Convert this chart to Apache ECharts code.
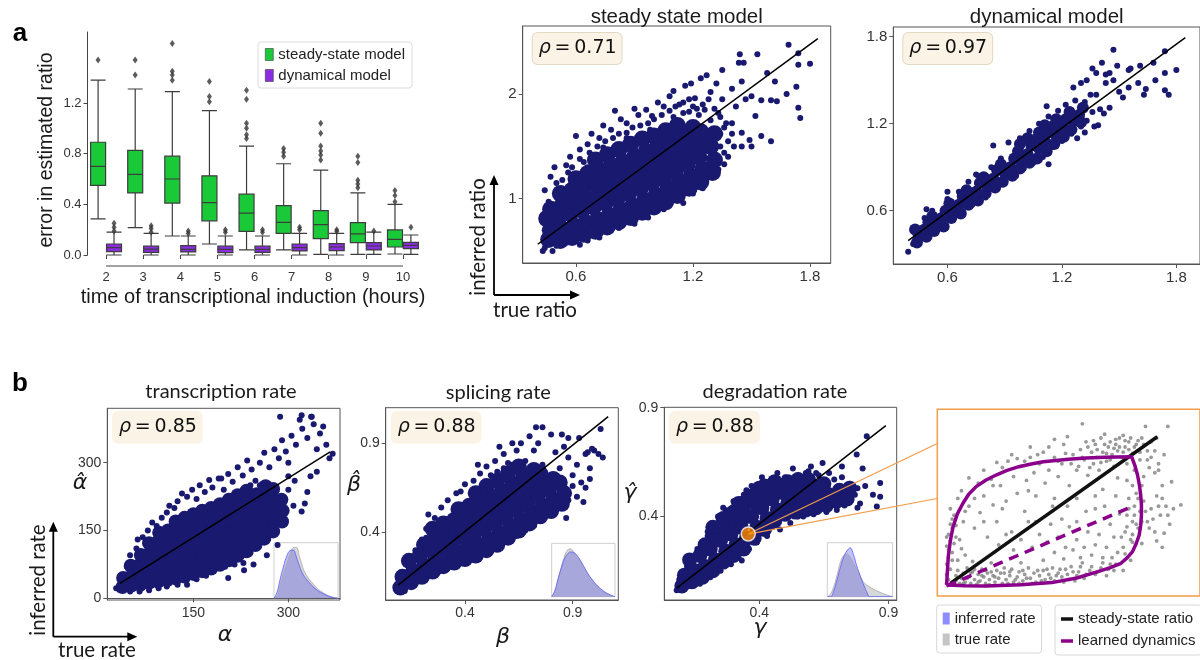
<!DOCTYPE html>
<html><head><meta charset="utf-8">
<script src="https://cdn.jsdelivr.net/npm/echarts@6/dist/echarts.min.js"></script>
<style>html,body{margin:0;padding:0;background:#fff}#c{width:1200px;height:660px}</style>
</head><body><div id="c"></div>
<script>
// ---------- panel a: error in estimated ratio per induction time ----------
const hours = ['2','3','4','5','6','7','8','9','10'];
// [lower whisker, Q1, median, Q3, upper whisker]
const steadyBoxes = [[0.285,0.55,0.70,0.89,1.38],[0.216,0.49,0.636,0.825,1.31],[0.15,0.41,0.60,0.78,1.29],[0.087,0.27,0.414,0.625,1.14],[0.04,0.187,0.33,0.48,0.86],[0.04,0.17,0.258,0.39,0.72],[0.005,0.13,0.24,0.35,0.67],[0.005,0.098,0.166,0.256,0.49],[0.008,0.063,0.124,0.198,0.40]];
const dynBoxes = [[0,0.026,0.058,0.087,0.18],[0,0.02,0.047,0.07,0.17],[0,0.024,0.045,0.074,0.15],[0,0.018,0.045,0.07,0.15],[0,0.02,0.045,0.07,0.15],[0,0.032,0.058,0.087,0.17],[0,0.034,0.063,0.09,0.17],[0.005,0.04,0.071,0.098,0.18],[0.005,0.05,0.076,0.1,0.158]];
// [hour index, value]
const steadyOutliers = [[0,1.54],[1,1.54],[1,1.42],[2,1.67],[2,1.45],[2,1.42],[2,1.38],[3,1.37],[3,1.25],[3,1.21],[4,1.30],[4,1.23],[4,1.04],[4,1.0],[4,0.95],[4,0.92],[5,0.84],[5,0.81],[5,0.78],[6,1.04],[6,0.96],[6,0.86],[6,0.82],[6,0.79],[6,0.75],[7,0.78],[7,0.73],[7,0.59],[7,0.56],[7,0.53],[8,0.51],[8,0.47],[8,0.42]];
const dynOutliers = [[0,0.25],[0,0.22],[0,0.19],[1,0.23],[1,0.21],[1,0.18],[2,0.19],[2,0.17],[3,0.2],[3,0.18],[4,0.2],[4,0.18],[5,0.22],[5,0.2],[6,0.2],[6,0.185],[7,0.19],[8,0.22]];

// ---------- panel a: inferred vs true ratio ----------
const ssDense = [[0.46,0.61],[0.47,0.7],[0.45,0.81],[0.47,0.9],[0.52,0.6],[0.53,0.71],[0.51,0.83],[0.53,0.94],[0.52,1.05],[0.58,0.63],[0.59,0.74],[0.57,0.86],[0.59,0.97],[0.58,1.08],[0.6,1.19],[0.64,0.66],[0.65,0.77],[0.63,0.89],[0.65,1.0],[0.64,1.12],[0.66,1.24],[0.7,0.69],[0.71,0.8],[0.69,0.92],[0.71,1.03],[0.7,1.15],[0.72,1.27],[0.7,1.37],[0.76,0.73],[0.77,0.84],[0.75,0.96],[0.77,1.07],[0.76,1.19],[0.78,1.31],[0.76,1.42],[0.82,0.78],[0.83,0.89],[0.81,1.0],[0.83,1.12],[0.82,1.23],[0.84,1.35],[0.82,1.47],[0.88,0.82],[0.89,0.93],[0.87,1.05],[0.89,1.16],[0.88,1.28],[0.9,1.4],[0.88,1.52],[0.94,0.87],[0.95,0.98],[0.93,1.1],[0.95,1.21],[0.94,1.33],[0.96,1.45],[0.94,1.57],[1.0,0.92],[1.01,1.03],[0.99,1.15],[1.01,1.26],[1.0,1.38],[1.02,1.5],[1.0,1.6],[1.06,0.97],[1.07,1.09],[1.05,1.2],[1.07,1.32],[1.06,1.43],[1.08,1.55],[1.06,1.65],[1.12,1.03],[1.13,1.15],[1.11,1.26],[1.13,1.38],[1.12,1.49],[1.14,1.6],[1.12,1.7],[1.18,1.1],[1.19,1.21],[1.17,1.33],[1.19,1.44],[1.18,1.56],[1.2,1.68],[1.24,1.16],[1.25,1.28],[1.23,1.4],[1.25,1.52],[1.24,1.64],[1.3,1.25],[1.31,1.37],[1.29,1.5],[1.31,1.62]];
const ssSparse = [[0.44,1.08],[0.47,1.21],[0.5,1.15],[0.49,1.3],[0.55,1.32],[0.57,1.4],[0.6,1.6],[0.62,1.47],[0.66,1.52],[0.68,1.62],[0.72,1.58],[0.74,1.7],[0.78,1.66],[0.8,1.84],[0.83,1.76],[0.86,1.72],[0.9,1.86],[0.92,1.8],[0.96,1.85],[0.99,1.79],[1.02,1.92],[1.05,1.88],[1.08,1.98],[1.1,2.03],[1.13,1.9],[1.16,2.08],[1.19,2.1],[1.21,1.96],[1.24,2.15],[1.27,2.18],[1.29,2.02],[1.32,2.1],[1.35,1.95],[1.35,2.23],[1.4,2.05],[1.435,2.3],[1.46,2.3],[1.45,2.12],[1.5,1.98],[1.52,1.79],[1.55,1.94],[1.6,1.94],[1.63,1.93],[1.68,2.0],[1.73,2.07],[1.69,2.47],[1.74,2.39],[1.74,2.28],[1.8,2.29],[1.74,1.87],[1.75,1.77],[1.5,1.5],[1.45,1.63],[1.49,1.56],[1.45,1.5],[1.41,1.5],[1.36,1.44],[1.38,1.55],[1.4,1.72],[1.34,1.5],[1.33,1.82],[1.3,1.4],[1.36,1.33],[1.25,1.1],[1.2,1.05],[1.15,0.96],[1.05,0.9],[0.97,0.82],[0.9,0.76],[0.82,0.72],[0.72,0.63],[0.66,0.6],[0.62,0.56],[0.55,0.58],[0.5,0.55],[0.44,0.53],[0.43,0.5],[0.48,0.5],[0.44,0.7],[0.43,0.78],[0.46,0.97],[1.58,2.2],[1.62,2.12],[1.53,2.38],[1.44,2.38],[1.6,1.55],[1.55,1.6],[1.26,1.85],[1.2,1.88],[1.15,1.82],[1.36,1.68],[1.42,1.88],[1.47,1.95],[0.64,1.35],[0.58,1.3],[0.53,1.18],[0.56,1.25],[0.62,1.38],[0.67,1.44],[0.71,1.5],[0.75,1.55],[0.79,1.58],[0.82,1.62],[0.86,1.63],[0.89,1.68],[0.93,1.7],[0.97,1.72],[1.0,1.76],[1.04,1.8],[1.08,1.84],[1.11,1.88],[1.15,1.92],[1.18,1.95],[1.22,1.86],[1.25,1.9],[1.28,1.95],[1.31,1.86],[1.34,1.78],[1.37,1.72],[1.4,1.62],[1.34,1.62],[1.29,1.75],[1.23,1.8],[1.18,1.83],[1.1,1.78],[0.98,1.66],[0.86,1.58],[0.74,1.49],[0.66,1.3],[1.33,1.28],[1.38,1.4],[1.27,1.2],[1.22,1.12],[1.17,1.06],[1.1,0.99],[1.02,0.94],[0.95,0.86]];
const ssFit = [[0.404,0.565],[1.84,2.53]];

const dyDense = [[0.44,0.38],[0.45,0.43],[0.43,0.47],[0.49,0.42],[0.48,0.47],[0.5,0.52],[0.53,0.46],[0.54,0.51],[0.52,0.56],[0.58,0.49],[0.57,0.55],[0.59,0.6],[0.62,0.55],[0.63,0.6],[0.61,0.65],[0.67,0.58],[0.66,0.64],[0.68,0.7],[0.71,0.64],[0.72,0.69],[0.7,0.74],[0.76,0.67],[0.75,0.73],[0.77,0.79],[0.8,0.72],[0.81,0.77],[0.79,0.83],[0.85,0.76],[0.84,0.82],[0.86,0.88],[0.89,0.8],[0.9,0.86],[0.88,0.92],[0.94,0.84],[0.93,0.9],[0.95,0.96],[0.98,0.89],[0.99,0.95],[0.97,1.01],[0.98,1.06],[1.03,0.93],[1.02,0.99],[1.04,1.05],[1.02,1.1],[1.07,0.96],[1.08,1.03],[1.06,1.09],[1.08,1.14],[1.12,1.01],[1.11,1.08],[1.13,1.14],[1.11,1.19],[1.16,1.06],[1.17,1.12],[1.15,1.18],[1.17,1.23],[1.21,1.11],[1.2,1.17],[1.22,1.23],[1.25,1.16],[1.26,1.22],[1.24,1.28],[1.3,1.21],[1.29,1.26],[1.31,1.31]];
const dySparse = [[0.394,0.317],[0.42,0.37],[0.44,0.4],[0.47,0.41],[0.49,0.61],[0.5,0.44],[0.48,0.55],[0.52,0.6],[0.55,0.47],[0.58,0.51],[0.6,0.68],[0.6,0.73],[0.63,0.54],[0.66,0.73],[0.68,0.59],[0.71,0.8],[0.73,0.64],[0.75,0.85],[0.76,0.84],[0.8,0.69],[0.84,1.05],[0.83,0.9],[0.85,0.74],[0.88,0.96],[0.9,0.79],[0.92,1.07],[0.96,0.84],[0.98,1.1],[1.0,0.89],[1.03,1.15],[1.05,0.93],[1.08,1.2],[1.1,0.97],[1.13,0.92],[1.13,1.25],[1.15,1.04],[1.18,1.29],[1.2,1.08],[1.22,1.33],[1.25,1.13],[1.27,1.36],[1.3,1.18],[1.32,1.35],[1.33,1.22],[1.35,1.4],[1.36,1.28],[1.38,1.4],[1.4,1.3],[1.42,1.27],[1.43,1.48],[1.45,1.55],[1.47,1.5],[1.5,1.42],[1.52,1.38],[1.55,1.45],[1.56,1.58],[1.6,1.48],[1.63,1.4],[1.47,1.71],[1.74,1.7],[1.8,1.57],[1.74,1.55],[1.74,1.43],[1.76,1.4],[1.64,1.44],[1.69,1.5],[1.68,1.62],[1.61,1.6],[1.55,1.57],[1.49,1.6],[1.43,1.54],[1.38,1.55],[1.45,1.31],[1.37,1.18],[1.32,1.14],[1.39,1.19],[1.36,1.58],[1.3,1.48],[1.26,1.45],[1.33,1.5],[1.12,1.32],[1.28,1.1],[1.41,1.62]];
const dyFit = [[0.394,0.393],[1.847,1.793]];

// ---------- panel b: inferred vs true kinetic rates ----------
const alphaDense = [[38,25],[39,45],[52,28],[53,50],[51,72],[66,30],[67,52],[65,74],[67,96],[80,34],[81,56],[79,78],[81,100],[80,122],[94,37],[95,59],[93,81],[95,103],[94,125],[96,145],[108,40],[109,62],[107,84],[109,106],[108,128],[110,150],[122,44],[123,66],[121,88],[123,110],[122,132],[124,154],[122,170],[136,48],[137,70],[135,92],[137,114],[136,136],[138,158],[136,178],[150,54],[151,76],[149,98],[151,120],[150,142],[152,164],[150,186],[164,60],[165,82],[163,104],[165,126],[164,148],[166,170],[164,194],[178,66],[179,88],[177,110],[179,132],[178,154],[180,176],[178,200],[192,74],[193,96],[191,118],[193,140],[192,162],[194,184],[192,208],[206,84],[207,106],[205,128],[207,150],[206,172],[208,194],[206,218],[220,94],[221,116],[219,138],[221,160],[220,182],[222,204],[220,228],[234,104],[235,126],[233,148],[235,170],[234,192],[236,214],[234,238],[248,118],[249,140],[247,162],[249,184],[248,206],[250,230],[262,132],[263,154],[261,176],[263,198],[262,222],[264,248],[276,148],[277,170],[275,192],[277,216],[276,242],[290,170],[291,194],[289,218]];
const alphaSparse = [[45,70],[50,95],[60,110],[62,130],[70,135],[78,150],[85,168],[92,160],[100,178],[108,190],[112,205],[120,200],[125,215],[132,232],[140,225],[148,240],[155,220],[160,250],[168,235],[175,262],[180,245],[190,265],[198,240],[205,275],[212,258],[220,290],[228,272],[235,305],[242,285],[248,260],[255,300],[262,322],[270,290],[278,330],[285,310],[290,350],[296,325],[300,300],[305,360],[312,340],[318,395],[322,375],[330,355],[336,402],[340,385],[345,330],[350,365],[355,380],[360,340],[365,310],[370,320],[345,280],[335,270],[330,235],[326,210],[321,192],[308,205],[295,166],[290,180],[280,160],[272,145],[255,122],[250,115],[240,100],[229,78],[215,75],[200,70],[183,62],[170,50],[155,42],[140,30],[125,30],[108,26],[95,22],[80,18],[65,15],[50,15],[33,19],[28,22],[310,260],[300,240],[285,210],[275,200],[260,180],[255,250],[240,250],[222,180],[230,62],[245,75],[283,118],[266,95],[194,265],[287,402],[256,175],[205,45],[337,402],[321,405],[300,270]];
const alphaFit = [[34,33],[366,324]];

const betaDense = [[0.1,0.09],[0.11,0.15],[0.15,0.12],[0.16,0.18],[0.14,0.24],[0.2,0.15],[0.21,0.21],[0.19,0.27],[0.21,0.33],[0.25,0.18],[0.26,0.24],[0.24,0.3],[0.26,0.36],[0.25,0.42],[0.3,0.21],[0.31,0.27],[0.29,0.33],[0.31,0.39],[0.3,0.45],[0.35,0.23],[0.36,0.29],[0.34,0.35],[0.36,0.41],[0.35,0.47],[0.37,0.53],[0.4,0.25],[0.41,0.31],[0.39,0.37],[0.41,0.43],[0.4,0.49],[0.42,0.55],[0.45,0.27],[0.46,0.33],[0.44,0.39],[0.46,0.45],[0.45,0.51],[0.47,0.57],[0.45,0.62],[0.5,0.3],[0.51,0.36],[0.49,0.42],[0.51,0.48],[0.5,0.54],[0.52,0.6],[0.5,0.66],[0.55,0.33],[0.56,0.39],[0.54,0.45],[0.56,0.51],[0.55,0.57],[0.57,0.63],[0.55,0.69],[0.6,0.37],[0.61,0.43],[0.59,0.49],[0.61,0.55],[0.6,0.61],[0.62,0.67],[0.6,0.73],[0.65,0.41],[0.66,0.47],[0.64,0.53],[0.66,0.59],[0.65,0.65],[0.67,0.71],[0.65,0.77],[0.7,0.45],[0.71,0.51],[0.69,0.57],[0.71,0.63],[0.7,0.69],[0.72,0.75],[0.75,0.49],[0.76,0.55],[0.74,0.61],[0.76,0.67],[0.75,0.73],[0.8,0.52],[0.81,0.58],[0.79,0.64],[0.81,0.7],[0.85,0.56],[0.86,0.62],[0.84,0.68]];
const betaSparse = [[0.09,0.085],[0.12,0.07],[0.14,0.1],[0.17,0.12],[0.2,0.14],[0.24,0.16],[0.28,0.18],[0.32,0.2],[0.36,0.22],[0.4,0.25],[0.44,0.27],[0.48,0.28],[0.52,0.3],[0.56,0.33],[0.6,0.36],[0.64,0.38],[0.68,0.41],[0.72,0.44],[0.76,0.47],[0.8,0.5],[0.84,0.54],[0.88,0.58],[0.92,0.6],[0.96,0.65],[0.98,0.7],[0.94,0.68],[0.9,0.72],[0.86,0.66],[0.82,0.6],[0.78,0.56],[0.8,0.68],[0.84,0.76],[0.88,0.82],[0.92,0.78],[0.96,0.84],[1.0,0.86],[1.04,0.82],[1.03,0.98],[0.99,0.87],[0.93,0.93],[0.88,0.93],[0.85,0.95],[0.8,0.95],[0.76,0.99],[0.73,0.99],[0.7,0.94],[0.66,0.9],[0.62,0.9],[0.58,0.84],[0.54,0.8],[0.5,0.77],[0.47,0.73],[0.44,0.69],[0.4,0.67],[0.36,0.62],[0.32,0.58],[0.29,0.54],[0.26,0.48],[0.22,0.42],[0.2,0.36],[0.17,0.3],[0.14,0.26],[0.22,0.37],[0.31,0.45],[0.38,0.63],[0.46,0.78],[0.55,0.74],[0.6,0.79],[0.68,0.8],[0.72,0.86],[0.76,0.78],[0.82,0.85],[0.86,0.88],[0.9,0.66],[0.74,0.9],[0.64,0.86],[0.7,0.76],[0.78,0.72],[0.66,0.76],[0.62,0.78],[0.58,0.76],[0.86,0.62],[0.52,0.72],[0.95,0.57],[0.87,0.48],[0.56,0.88],[0.23,0.5],[0.27,0.27],[0.45,0.38],[0.98,0.76],[1.02,0.84],[0.97,0.85]];
const betaFit = [[0.09,0.104],[1.065,1.05]];

const gammaDense = [[0.1,0.08],[0.11,0.13],[0.14,0.1],[0.15,0.15],[0.13,0.2],[0.18,0.12],[0.19,0.17],[0.17,0.22],[0.19,0.27],[0.22,0.15],[0.23,0.2],[0.21,0.25],[0.23,0.3],[0.22,0.35],[0.26,0.19],[0.27,0.24],[0.25,0.29],[0.27,0.34],[0.26,0.39],[0.3,0.22],[0.31,0.27],[0.29,0.32],[0.31,0.37],[0.3,0.42],[0.32,0.46],[0.34,0.25],[0.35,0.3],[0.33,0.35],[0.35,0.4],[0.34,0.45],[0.36,0.49],[0.38,0.3],[0.39,0.35],[0.37,0.4],[0.39,0.45],[0.38,0.5],[0.4,0.53],[0.42,0.34],[0.43,0.39],[0.41,0.44],[0.43,0.49],[0.42,0.54],[0.46,0.38],[0.47,0.43],[0.45,0.48],[0.47,0.53],[0.46,0.56],[0.5,0.41],[0.51,0.46],[0.49,0.51],[0.51,0.56],[0.54,0.42],[0.55,0.47],[0.53,0.52],[0.55,0.57],[0.58,0.43],[0.59,0.48],[0.57,0.53],[0.59,0.57],[0.62,0.44],[0.63,0.49],[0.61,0.54],[0.66,0.45],[0.67,0.5],[0.65,0.55],[0.7,0.47],[0.71,0.52],[0.74,0.48],[0.75,0.53]];
const gammaSparse = [[0.08,0.06],[0.09,0.11],[0.12,0.2],[0.13,0.08],[0.16,0.25],[0.17,0.09],[0.2,0.31],[0.21,0.12],[0.24,0.4],[0.25,0.15],[0.27,0.43],[0.29,0.18],[0.3,0.47],[0.32,0.21],[0.34,0.5],[0.36,0.25],[0.37,0.54],[0.39,0.28],[0.41,0.58],[0.43,0.31],[0.44,0.56],[0.47,0.6],[0.48,0.34],[0.5,0.58],[0.52,0.37],[0.53,0.62],[0.55,0.59],[0.57,0.4],[0.58,0.6],[0.6,0.63],[0.61,0.41],[0.63,0.59],[0.645,0.646],[0.66,0.42],[0.67,0.6],[0.69,0.57],[0.7,0.43],[0.72,0.58],[0.73,0.45],[0.74,0.52],[0.75,0.55],[0.77,0.5],[0.777,0.685],[0.79,0.46],[0.8,0.62],[0.81,0.54],[0.816,0.769],[0.84,0.5],[0.855,0.446],[0.868,0.554],[0.868,0.49],[0.72,0.63],[0.6,0.57],[0.46,0.57],[0.2,0.33],[0.23,0.19],[0.28,0.23],[0.35,0.52],[0.4,0.33],[0.45,0.35],[0.16,0.11],[0.26,0.44],[0.33,0.48],[0.55,0.4],[0.62,0.6],[0.73,0.49],[0.78,0.53],[0.66,0.53],[0.31,0.45],[0.25,0.38],[0.19,0.27],[0.12,0.17],[0.59,0.608],[0.78,0.44],[0.332,0.197]];
const gammaFit = [[0.08,0.07],[0.89,0.818]];
const highlightGene = [[0.357,0.319]];

// ---------- panel b: distribution insets (inferred vs true) ----------
const kdeGrid = [0,0.05,0.1,0.15,0.2,0.25,0.3,0.35,0.4,0.45,0.5,0.55,0.6,0.65,0.7,0.75,0.8,0.85,0.9,0.95,1];
const alphaInferredKde = [0,0.12,0.38,0.61,0.8,0.9,0.91,0.78,0.6,0.46,0.37,0.3,0.23,0.18,0.13,0.1,0.07,0.04,0.02,0.01,0];
const alphaTrueKde = [0,0.05,0.26,0.48,0.66,0.84,0.95,0.96,0.78,0.58,0.45,0.36,0.29,0.22,0.16,0.12,0.08,0.05,0.03,0.01,0];
const betaInferredKde = [0,0.12,0.35,0.56,0.74,0.84,0.88,0.87,0.81,0.72,0.61,0.5,0.4,0.32,0.24,0.18,0.13,0.08,0.05,0.02,0];
const betaTrueKde = [0,0.1,0.33,0.57,0.78,0.92,0.94,0.87,0.79,0.7,0.6,0.49,0.39,0.31,0.24,0.18,0.12,0.08,0.05,0.02,0];
const gammaInferredKde = [0,0,0.12,0.33,0.57,0.77,0.89,0.95,0.82,0.6,0.42,0.25,0.1,0,0,0,0,0,0,0,0];
const gammaTrueKde = [0,0.05,0.2,0.42,0.67,0.8,0.83,0.77,0.66,0.54,0.41,0.29,0.23,0.19,0.15,0.12,0.09,0.06,0.04,0.02,0];

// ---------- panel b: phase portrait of one gene (spliced, unspliced) ----------
const phaseCells = [[0.0,0.02],[0.01,0.05],[0.0,0.09],[0.02,0.13],[0.0,0.17],[0.01,0.22],[0.03,0.26],[0.0,0.31],[0.02,0.35],[0.01,0.4],[0.03,0.45],[0.04,0.03],[0.05,0.08],[0.06,0.12],[0.07,0.02],[0.08,0.06],[0.09,0.1],[0.1,0.03],[0.11,0.14],[0.12,0.07],[0.13,0.02],[0.14,0.11],[0.15,0.05],[0.16,0.01],[0.17,0.09],[0.18,0.04],[0.19,0.13],[0.2,0.07],[0.21,0.02],[0.22,0.1],[0.23,0.05],[0.25,0.08],[0.26,0.03],[0.27,0.12],[0.28,0.06],[0.3,0.02],[0.31,0.1],[0.32,0.05],[0.34,0.08],[0.35,0.13],[0.36,0.03],[0.38,0.07],[0.39,0.11],[0.41,0.04],[0.42,0.09],[0.44,0.14],[0.45,0.06],[0.47,0.1],[0.48,0.03],[0.5,0.08],[0.52,0.12],[0.53,0.05],[0.55,0.09],[0.57,0.14],[0.58,0.04],[0.6,0.1],[0.62,0.07],[0.64,0.13],[0.66,0.05],[0.68,0.11],[0.7,0.08],[0.72,0.15],[0.74,0.06],[0.77,0.12],[0.8,0.09],[0.83,0.14],[0.86,0.08],[0.88,0.17],[0.9,0.12],[0.14,0.19],[0.24,0.18],[0.4,0.18],[0.52,0.2],[0.63,0.21],[0.06,0.2],[0.08,0.29],[0.05,0.38],[0.1,0.24],
[0.04,0.55],[0.06,0.68],[0.09,0.5],[0.12,0.62],[0.15,0.45],[0.17,0.8],[0.18,0.57],[0.2,0.7],[0.22,0.38],[0.24,0.83],[0.25,0.63],[0.27,0.5],[0.29,0.78],[0.3,0.92],[0.32,0.66],[0.33,0.97],[0.35,0.42],[0.36,0.85],[0.38,0.72],[0.4,0.93],[0.42,0.58],[0.43,0.82],[0.45,1.0],[0.47,0.88],[0.48,0.7],[0.5,0.95],[0.52,1.04],[0.53,0.8],[0.55,0.9],[0.57,0.62],[0.58,1.0],[0.6,0.85],[0.62,0.95],[0.63,1.1],[0.65,1.16],[0.66,0.78],[0.68,1.02],[0.7,0.9],[0.72,1.06],[0.73,1.26],[0.74,0.98],[0.75,1.12],[0.76,0.86],[0.78,1.04],[0.79,0.95],[0.8,1.1],[0.81,1.0],[0.82,0.9],[0.83,1.15],[0.84,1.04],[0.85,1.18],[0.86,0.97],[0.87,1.08],[0.88,1.12],[0.89,1.02],[0.9,0.93],[0.91,1.1],[0.92,1.05],[0.93,1.15],[0.94,1.0],[0.95,1.17],[0.96,1.08],[0.97,0.95],[0.98,1.12],[1.0,1.03],[1.01,0.9],[1.02,1.1],[1.04,0.98],[1.05,1.15],[1.06,0.85],[1.07,1.24],[1.08,1.05],[1.09,0.92],[1.1,1.0],[1.12,0.88],[1.14,0.95],[1.16,0.78],[1.19,1.24],[1.21,0.81],[1.26,0.63],
[0.95,0.3],[0.96,0.42],[0.97,0.55],[0.98,0.68],[0.99,0.36],[1.0,0.5],[1.01,0.62],[1.02,0.72],[1.03,0.45],[1.04,0.58],[1.05,0.33],[1.06,0.66],[1.08,0.5],[1.1,0.6],[1.12,0.42],[1.13,0.7],[1.15,0.55],[1.17,0.41],[1.18,0.62],[1.2,0.48],[0.92,0.26],[0.9,0.38],[0.88,0.48],[0.86,0.3],[0.84,0.22],[0.82,0.4],[0.8,0.32],[0.78,0.24],[0.76,0.42],[0.74,0.3],[0.72,0.22],[0.7,0.36],[0.68,0.28],[0.66,0.46],[0.64,0.3],[0.62,0.52],[0.6,0.38],[0.58,0.26],[0.56,0.48],[0.54,0.34],[0.5,0.4],[0.46,0.3],[0.44,0.5],[0.4,0.36],[0.36,0.28],[0.32,0.4],[0.28,0.32],[0.93,0.56],[0.91,0.7],[0.85,0.62],[0.8,0.7],[0.75,0.58],[0.7,0.68],[0.65,0.62],[0.97,0.82],[1.05,0.78],[0.99,0.2],[0.95,0.12],[1.0,0.78],[0.92,0.84],
[0.03,0.01],[0.05,0.04],[0.09,0.02],[0.11,0.06],[0.13,0.1],[0.15,0.13],[0.17,0.03],[0.19,0.08],[0.21,0.12],[0.23,0.01],[0.24,0.11],[0.26,0.07],[0.29,0.1],[0.31,0.14],[0.33,0.02],[0.34,0.11],[0.37,0.05],[0.39,0.02],[0.41,0.12],[0.43,0.06],[0.46,0.02],[0.49,0.12],[0.51,0.04],[0.54,0.13],[0.56,0.06],[0.59,0.08],[0.61,0.13],[0.63,0.03],[0.65,0.09],[0.67,0.15],[0.69,0.04],[0.71,0.11],[0.73,0.18],[0.75,0.09],[0.78,0.15],[0.81,0.11],[0.84,0.18],[0.87,0.13],[0.89,0.22],[0.91,0.17],
[0.01,0.28],[0.02,0.48],[0.0,0.38],[0.03,0.2],[0.04,0.33],[0.02,0.6],[0.05,0.47],[0.07,0.36],[0.03,0.52],
[0.71,0.93],[0.73,1.0],[0.76,1.08],[0.77,0.92],[0.79,1.13],[0.81,1.06],[0.83,0.96],[0.85,1.1],[0.86,1.03],[0.88,0.98],[0.9,1.07],[0.91,1.14],[0.93,1.08],[0.95,1.04],[0.96,1.13],[0.98,1.06],[0.99,1.15],[1.01,1.08],[1.03,1.13],[1.04,1.04],[1.06,1.1],[1.08,0.98],[1.1,1.12],[1.12,1.05],[1.14,0.9],[1.13,1.15],[1.17,1.02],[0.67,0.95],[0.64,1.03],[0.6,0.97],[0.55,1.08],[0.49,1.02],[0.42,0.97],[0.38,0.99],
[0.97,0.46],[0.98,0.6],[1.0,0.4],[1.01,0.55],[1.02,0.48],[1.03,0.68],[1.05,0.5],[1.07,0.58],[1.09,0.45],[1.11,0.52],[1.14,0.62],[1.16,0.68],[1.19,0.55],[1.22,0.6],[1.13,0.35],[1.16,0.3],[1.0,0.34],[0.96,0.25],[0.94,0.38],
[0.3,0.6],[0.44,0.74],[0.58,0.68],[0.48,0.5],[0.7,0.5],[0.8,0.6],[0.84,0.75],[0.25,0.78],[0.15,0.68],[0.1,0.58],[0.2,0.5],[0.08,0.74],[0.12,0.84],[0.2,0.9],[0.27,0.96],[0.35,1.02],[0.45,1.08],[0.58,1.14]];
const steadyStateRatio = [[0.02,0.02],[1.133,1.16]];
const learnedDynamics = [[0,0.008],[0.009,0.228],[0.02,0.35],[0.035,0.461],[0.058,0.56],[0.088,0.643],[0.12,0.715],[0.159,0.772],[0.21,0.822],[0.266,0.862],[0.325,0.898],[0.389,0.927],[0.455,0.948],[0.52,0.965],[0.655,0.984],[0.75,0.994],[0.85,1.0],[0.92,1.003],[0.995,1.005],[1.012,0.94],[1.027,0.862],[1.037,0.785],[1.044,0.707],[1.048,0.63],[1.048,0.552],[1.044,0.47],[1.036,0.396],[1.02,0.33],[1.0,0.267],[0.972,0.22],[0.938,0.176],[0.88,0.142],[0.814,0.111],[0.7,0.062],[0.566,0.026],[0.4,0.01],[0.212,0.0],[0.1,0.002],[0,0.008]];
const learnedSteadyState = [[0,0],[1.005,0.622]];

// ---------- styling ----------
const SANS = '"Liberation Sans", Arial, sans-serif';
const HUMAN = 'Lato, "Open Sans", sans-serif';
const MATH = '"DejaVu Sans", sans-serif';
const DOT = '#191970';
const GREEN = '#1ac938', PURPLE = '#8b2be2', EDGE = '#3d3d3d';
const ORANGE = '#f39c4a', MAGENTA = '#8b008b';

const grids = [
  {left: 87.5, top: 32, width: 334, height: 223},          // 0 boxplot
  {left: 522.7, top: 26, width: 308, height: 237},          // 1 steady state
  {left: 893.3, top: 27, width: 310, height: 237},          // 2 dynamical
  {left: 107.3, top: 408.3, width: 232.7, height: 191.7},   // 3 alpha
  {left: 385.7, top: 407.7, width: 232.6, height: 192.3},   // 4 beta
  {left: 664.3, top: 407.3, width: 232.4, height: 192.7},   // 5 gamma
  {left: 274, top: 542.7, width: 64, height: 55.6},         // 6 alpha kde
  {left: 551.7, top: 543.3, width: 63.3, height: 53.4},     // 7 beta kde
  {left: 827.3, top: 542.7, width: 65.4, height: 54},       // 8 gamma kde
  {left: 937.3, top: 409.3, width: 266, height: 186.7}      // 9 phase portrait
].map((g, i) => Object.assign({containLabel: false}, g,
  (i >= 1 && i <= 5) ? {show: true, borderColor: '#555', borderWidth: 1, backgroundColor: 'transparent'} :
  (i >= 6 && i <= 8) ? {show: true, borderColor: '#cfcfcf', borderWidth: 1, backgroundColor: '#fff'} :
  i === 9 ? {show: true, borderColor: ORANGE, borderWidth: 1.5, backgroundColor: '#fff'} : {}));

function valueAxis(gi, min, max, ticks, fs) {
  return {
    type: 'value', gridIndex: gi, min, max, splitLine: {show: false},
    axisLine: {show: true, lineStyle: {color: '#555', width: 1}},
    axisTick: {show: true, length: 4, lineStyle: {color: '#555'}, customValues: ticks},
    axisLabel: {show: true, fontSize: fs || 14, color: '#333', fontFamily: SANS, margin: 6, customValues: ticks,
      formatter: v => String(v)}
  };
}
function hiddenAxis(gi, min, max) {
  return {type: 'value', gridIndex: gi, min, max, show: false, splitLine: {show: false}};
}

const xAxes = [
  {type: 'category', gridIndex: 0, data: hours, offset: 11, boundaryGap: true,
   axisLine: {show: false}, axisTick: {show: true, alignWithLabel: true, length: 4, lineStyle: {color: '#444'}},
   axisLabel: {fontSize: 13, color: '#333', fontFamily: SANS, margin: 5}, splitLine: {show: false}},
  valueAxis(1, 0.327, 1.906, [0.6, 1.2, 1.8], 15),
  valueAxis(2, 0.316, 1.924, [0.6, 1.2, 1.8], 15),
  valueAxis(3, 14, 381.6, [150, 300]),
  valueAxis(4, 0.032, 1.112, [0.4, 0.9]),
  valueAxis(5, 0.032, 0.932, [0.4, 0.9]),
  hiddenAxis(6, 0, 1), hiddenAxis(7, 0, 1), hiddenAxis(8, 0, 1),
  hiddenAxis(9, -0.05, 1.363)
];
const yAxes = [
  {type: 'value', gridIndex: 0, min: 0, max: 1.76, splitLine: {show: false},
   axisLine: {show: true, lineStyle: {color: '#444'}},
   axisTick: {show: true, length: 4, lineStyle: {color: '#444'}, customValues: [0, 0.4, 0.8, 1.2]},
   axisLabel: {fontSize: 13, color: '#333', fontFamily: SANS, margin: 6, customValues: [0, 0.4, 0.8, 1.2], formatter: v => v.toFixed(1)}},
  valueAxis(1, 0.386, 2.65, [1, 2], 15),
  valueAxis(2, 0.232, 1.867, [0.6, 1.2, 1.8], 15),
  valueAxis(3, -3.8, 420.5, [0, 150, 300]),
  valueAxis(4, 0.02, 1.1, [0.4, 0.9]),
  valueAxis(5, 0.0156, 0.902, [0.4, 0.9]),
  hiddenAxis(6, 0, 1.05), hiddenAxis(7, 0, 1.05), hiddenAxis(8, 0, 1.05),
  hiddenAxis(9, -0.078, 1.373)
];

const series = [];
// boxplots
series.push({type: 'boxplot', name: 'steady-state model', xAxisIndex: 0, yAxisIndex: 0, data: steadyBoxes,
  boxWidth: [15, 15], itemStyle: {color: GREEN, borderColor: EDGE, borderWidth: 1.2}});
series.push({type: 'boxplot', name: 'dynamical model', xAxisIndex: 0, yAxisIndex: 0, data: dynBoxes,
  boxWidth: [15, 15], itemStyle: {color: PURPLE, borderColor: EDGE, borderWidth: 1.2}});
series.push({type: 'scatter', xAxisIndex: 0, yAxisIndex: 0, data: steadyOutliers, symbol: 'diamond',
  symbolSize: [5, 7], symbolOffset: [-8, 0], itemStyle: {color: '#333'}, z: 3});
series.push({type: 'scatter', xAxisIndex: 0, yAxisIndex: 0, data: dynOutliers, symbol: 'diamond',
  symbolSize: [5, 7], symbolOffset: [8, 0], itemStyle: {color: '#333'}, z: 3});

// scatter clouds with their fitted lines
function cloud(gi, dense, sparse, fit, denseSize) {
  series.push({type: 'scatter', xAxisIndex: gi, yAxisIndex: gi, data: sparse, symbolSize: 6,
    itemStyle: {color: DOT, opacity: 1}, z: 2, silent: true});
  series.push({type: 'scatter', xAxisIndex: gi, yAxisIndex: gi, data: dense, symbolSize: denseSize,
    itemStyle: {color: DOT, opacity: 1}, z: 2, silent: true});
  series.push({type: 'line', xAxisIndex: gi, yAxisIndex: gi, data: fit, symbol: 'none',
    lineStyle: {color: '#000', width: 1.5}, z: 4, silent: true});
}
cloud(1, ssDense, ssSparse, ssFit, 17);
cloud(2, dyDense, dySparse, dyFit, 12);
cloud(3, alphaDense, alphaSparse, alphaFit, 14);
cloud(4, betaDense, betaSparse, betaFit, 16);
cloud(5, gammaDense, gammaSparse, gammaFit, 15);
series.push({type: 'scatter', xAxisIndex: 5, yAxisIndex: 5, data: highlightGene, symbolSize: 14,
  itemStyle: {color: '#ff8c00', borderColor: '#fff', borderWidth: 1.5}, z: 10, silent: true});

// density insets
function kde(gi, inferred, truth) {
  series.push({type: 'line', name: 'true rate', xAxisIndex: gi, yAxisIndex: gi, smooth: 0.4, symbol: 'none',
    data: kdeGrid.map((x, i) => [x, truth[i]]), color: '#bdbdbd',
    lineStyle: {color: '#a8a8a8', width: 0.8}, areaStyle: {color: 'rgba(150,150,150,0.55)'}, z: 3, silent: true});
  series.push({type: 'line', name: 'inferred rate', xAxisIndex: gi, yAxisIndex: gi, smooth: 0.4, symbol: 'none',
    data: kdeGrid.map((x, i) => [x, inferred[i]]), color: '#8c8cff',
    lineStyle: {color: '#5a5aff', width: 0.8}, areaStyle: {color: 'rgba(80,80,230,0.5)'}, z: 3, silent: true});
}
kde(6, alphaInferredKde, alphaTrueKde);
kde(7, betaInferredKde, betaTrueKde);
kde(8, gammaInferredKde, gammaTrueKde);

// phase portrait
series.push({type: 'scatter', xAxisIndex: 9, yAxisIndex: 9, data: phaseCells, symbolSize: 3.8,
  itemStyle: {color: '#7f7f7f'}, z: 2, silent: true});
series.push({type: 'line', name: 'steady-state ratio', xAxisIndex: 9, yAxisIndex: 9, data: steadyStateRatio,
  symbol: 'none', color: '#111', lineStyle: {color: '#111', width: 3.5}, z: 4, silent: true});
series.push({type: 'line', name: 'learned dynamics', xAxisIndex: 9, yAxisIndex: 9, data: learnedDynamics,
  symbol: 'none', color: MAGENTA, lineStyle: {color: MAGENTA, width: 3.5, join: 'round'}, z: 5, silent: true});
series.push({type: 'line', name: 'learned dynamics', xAxisIndex: 9, yAxisIndex: 9, data: learnedSteadyState,
  symbol: 'none', color: MAGENTA, lineStyle: {color: MAGENTA, width: 3.5, type: [10, 7]}, z: 5, silent: true});

const legendText = {fontSize: 15, color: '#222', fontFamily: SANS};
const legends = [
  {data: [{name: 'steady-state model', itemStyle: {color: GREEN, borderColor: EDGE, borderWidth: 0.6}},
          {name: 'dynamical model', itemStyle: {color: PURPLE, borderColor: EDGE, borderWidth: 0.6}}],
   left: 258, top: 42, orient: 'vertical', icon: 'rect',
   itemWidth: 8, itemHeight: 12, itemGap: 6, padding: [5, 7], borderColor: '#dcdcdc', borderWidth: 1, borderRadius: 3,
   textStyle: legendText, selectedMode: false},
  {data: [{name: 'inferred rate', itemStyle: {color: '#8c8cff'}}, {name: 'true rate', itemStyle: {color: '#c4c4c4'}}],
   left: 936.7, top: 605, orient: 'vertical', icon: 'rect',
   itemWidth: 7, itemHeight: 12, itemGap: 6, padding: [6, 6], borderColor: '#d8d8d8', borderWidth: 1, borderRadius: 3,
   textStyle: legendText, selectedMode: false},
  {data: [{name: 'steady-state ratio', itemStyle: {color: '#111'}}, {name: 'learned dynamics', itemStyle: {color: MAGENTA}}],
   left: 1055, top: 605, orient: 'vertical', icon: 'rect',
   itemWidth: 12, itemHeight: 3.5, itemGap: 6, padding: [6, 6], borderColor: '#d8d8d8', borderWidth: 1, borderRadius: 3,
   textStyle: Object.assign({}, legendText, {lineHeight: 16}), selectedMode: false, width: 200}
];

function label(x, y, text, size, family, extra) {
  return Object.assign({type: 'text', x, y, z: 20, silent: true,
    style: {text, fontSize: size, fontFamily: family, fill: '#1a1a1a', align: 'center', verticalAlign: 'middle'}}, extra || {});
}
function rhoBox(x, y, value, bordered) {
  return {type: 'text', x, y, z: 20, silent: true, style: {
    text: '{r|ρ}\u2009=\u20090' + value, fontSize: 19, fontFamily: MATH, fill: '#111', align: 'left', verticalAlign: 'top',
    backgroundColor: '#fbf4e6', padding: [6, 5, 6, 6], borderRadius: 5,
    borderColor: bordered ? '#e2d8c4' : '#fbf4e6', borderWidth: 1,
    rich: {r: {fontStyle: 'italic', fontSize: 19, fontFamily: MATH, fill: '#111'}}}};
}
function arrow(x0, y0, len, vertical) {
  const els = [];
  if (vertical) {
    els.push({type: 'line', shape: {x1: x0, y1: y0, x2: x0, y2: y0 - len + 8}, style: {stroke: '#000', lineWidth: 1.8}, z: 20});
    els.push({type: 'polygon', shape: {points: [[x0, y0 - len], [x0 - 4.5, y0 - len + 10], [x0 + 4.5, y0 - len + 10]]}, style: {fill: '#000'}, z: 20});
  } else {
    els.push({type: 'line', shape: {x1: x0, y1: y0, x2: x0 + len - 8, y2: y0}, style: {stroke: '#000', lineWidth: 1.8}, z: 20});
    els.push({type: 'polygon', shape: {points: [[x0 + len, y0], [x0 + len - 10, y0 - 4.5], [x0 + len - 10, y0 + 4.5]]}, style: {fill: '#000'}, z: 20});
  }
  return els;
}

const chart = echarts.init(document.getElementById('c'));
chart.setOption({
  animation: false,
  backgroundColor: '#fff',
  grid: grids, xAxis: xAxes, yAxis: yAxes, series, legend: legends
});

// trimmed x axis line for the boxplot and connectors to the phase portrait
const first = chart.convertToPixel({gridIndex: 0}, [hours[0], 0]);
const last = chart.convertToPixel({gridIndex: 0}, [hours[hours.length - 1], 0]);
const axisY = first[1] + 11;
const gene = chart.convertToPixel({gridIndex: 5}, highlightGene[0]);

const bold = t => ({style: {text: t, fontSize: 26, fontWeight: 'bold', fontFamily: SANS, fill: '#000', align: 'center', verticalAlign: 'middle'}});
const graphics = [
  label(20, 34, 'a', 26, SANS, bold('a')),
  label(20, 384, 'b', 26, SANS, bold('b')),
  {type: 'line', shape: {x1: first[0], y1: axisY, x2: last[0], y2: axisY}, style: {stroke: '#444', lineWidth: 1}, z: 20},
  label(47, 150, 'error in estimated ratio', 19.5, SANS, {rotation: Math.PI / 2}),
  label(253, 297, 'time of transcriptional induction (hours)', 20, SANS),
  label(676.7, 17, 'steady state model', 20.5, SANS),
  label(1046.7, 17, 'dynamical model', 20.5, SANS),
  label(221, 392, 'transcription rate', 20, HUMAN),
  label(498.3, 393, 'splicing rate', 20, HUMAN),
  label(775, 392, 'degradation rate', 20, HUMAN),
  label(478, 237, 'inferred ratio', 20.5, HUMAN, {rotation: Math.PI / 2}),
  label(535, 310, 'true ratio', 20.5, HUMAN),
  label(38, 580, 'inferred rate', 20.5, HUMAN, {rotation: Math.PI / 2}),
  label(97, 650, 'true rate', 20.5, HUMAN),
  rhoBox(532.7, 33, '.71', true),
  rhoBox(903.3, 33, '.97', true),
  rhoBox(113, 411.7, '.85', false),
  rhoBox(391.7, 411.7, '.88', false),
  rhoBox(670, 411.7, '.88', false),
  ...arrow(494, 295, 120, true), ...arrow(494, 295, 86, false),
  ...arrow(53.3, 636.7, 115, true), ...arrow(53.3, 636.7, 84, false),
  {type: 'line', shape: {x1: gene[0], y1: gene[1], x2: 937.3, y2: 443.5}, style: {stroke: ORANGE, lineWidth: 1.2}, z: 5},
  {type: 'line', shape: {x1: gene[0], y1: gene[1], x2: 937.3, y2: 498.5}, style: {stroke: ORANGE, lineWidth: 1.2}, z: 5}
];
['α\u0302', 'α', 'β\u0302', 'β', 'γ\u0302', 'γ'].forEach((t, i) => {
  const pos = [[80, 483], [225, 635], [354, 485], [503, 637], [630, 493], [760, 628]][i];
  graphics.push({type: 'text', x: pos[0], y: pos[1], z: 20, silent: true,
    style: {text: t, fontSize: 22, fontStyle: 'italic', fontFamily: MATH, fill: '#1a1a1a', align: 'center', verticalAlign: 'middle'}});
});
chart.setOption({graphic: {elements: graphics}});
</script>
</body></html>
